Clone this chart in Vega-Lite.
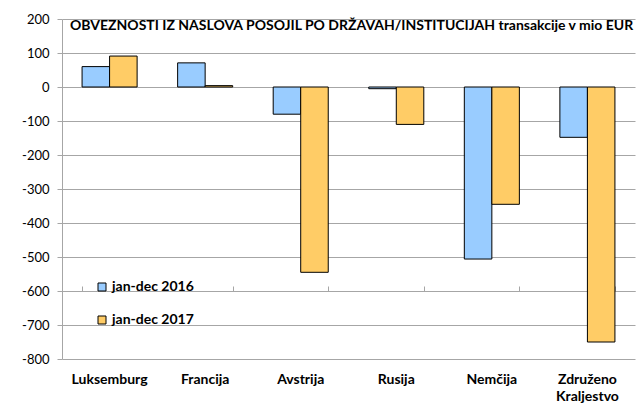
{
  "$schema": "https://vega.github.io/schema/vega-lite/v6.json",
  "width": 573,
  "height": 340,
  "autosize": {"type": "none"},
  "padding": {"left": 62, "top": 19, "right": 4, "bottom": 47},
  "background": "white",
  "title": {
    "text": "OBVEZNOSTI IZ NASLOVA POSOJIL PO DRŽAVAH/INSTITUCIJAH transakcije v mio EUR",
    "anchor": "start",
    "frame": "group",
    "orient": "top",
    "offset": -20,
    "baseline": "top",
    "dx": 8,
    "font": "Lato",
    "fontSize": 14,
    "fontWeight": "bold",
    "color": "black"
  },
  "data": {
    "values": [
      {"country": "Luksemburg", "series": "jan-dec 2016", "value": 60},
      {"country": "Luksemburg", "series": "jan-dec 2017", "value": 91},
      {"country": "Francija", "series": "jan-dec 2016", "value": 71},
      {"country": "Francija", "series": "jan-dec 2017", "value": 4},
      {"country": "Avstrija", "series": "jan-dec 2016", "value": -80},
      {"country": "Avstrija", "series": "jan-dec 2017", "value": -545},
      {"country": "Rusija", "series": "jan-dec 2016", "value": -5},
      {"country": "Rusija", "series": "jan-dec 2017", "value": -110},
      {"country": "Nemčija", "series": "jan-dec 2016", "value": -506},
      {"country": "Nemčija", "series": "jan-dec 2017", "value": -345},
      {"country": "Združeno Kraljestvo", "series": "jan-dec 2016", "value": -148},
      {"country": "Združeno Kraljestvo", "series": "jan-dec 2017", "value": -750}
    ]
  },
  "resolve": {"axis": {"x": "independent"}},
  "layer": [
    {
      "mark": {"type": "bar", "stroke": "black", "strokeWidth": 1},
      "encoding": {
        "x": {
          "field": "country",
          "type": "nominal",
          "sort": null,
          "scale": {"paddingInner": 0.424, "paddingOuter": 0.21},
          "axis": {
            "title": null,
            "domain": false,
            "ticks": false,
            "labelAngle": 0,
            "labelPadding": 13,
            "labelFont": "Lato",
            "labelFontSize": 14,
            "labelFontWeight": "bold",
            "labelColor": "black",
            "labelExpr": "datum.label == 'Združeno Kraljestvo' ? ['Združeno', 'Kraljestvo'] : datum.label",
            "labelLineHeight": 17
          }
        },
        "xOffset": {"field": "series", "sort": null},
        "y": {
          "field": "value",
          "type": "quantitative",
          "scale": {"domain": [-800, 200], "nice": false, "zero": false},
          "axis": {
            "title": null,
            "values": [-800, -700, -600, -500, -400, -300, -200, -100, 0, 100, 200],
            "labelOverlap": false,
            "labelExpr": "(datum.value < 0 ? '-' : '') + abs(datum.value)",
            "grid": true,
            "gridColor": "#A6A6A6",
            "gridWidth": 1,
            "domain": true,
            "domainColor": "#A6A6A6",
            "ticks": true,
            "tickColor": "#A6A6A6",
            "tickSize": 5,
            "labelPadding": 8,
            "labelFont": "Lato",
            "labelFontSize": 13,
            "labelColor": "black"
          }
        },
        "color": {
          "field": "series",
          "type": "nominal",
          "scale": {"domain": ["jan-dec 2016", "jan-dec 2017"], "range": ["#99CCFF", "#FFCC66"]},
          "legend": {
            "title": null,
            "orient": "none",
            "legendX": 33,
            "legendY": 261,
            "symbolType": "square",
            "symbolSize": 64,
            "symbolStrokeColor": "black",
            "symbolStrokeWidth": 1,
            "labelFont": "Lato",
            "labelFontSize": 14,
            "labelFontWeight": "bold",
            "labelColor": "black",
            "labelOffset": 3,
            "rowPadding": 19
          }
        }
      }
    },
    {
      "mark": {"type": "point", "opacity": 0},
      "encoding": {
        "x": {
          "field": "country",
          "type": "nominal",
          "sort": null,
          "axis": {
            "title": null,
            "labels": false,
            "domain": true,
            "domainColor": "#A6A6A6",
            "ticks": true,
            "tickBand": "extent",
            "tickColor": "#A6A6A6",
            "tickSize": 5,
            "offset": -272
          }
        },
        "y": {
          "datum": 0,
          "type": "quantitative",
          "axis": {
            "title": null,
            "values": [-800, -700, -600, -500, -400, -300, -200, -100, 0, 100, 200],
            "labelOverlap": false,
            "labelExpr": "(datum.value < 0 ? '-' : '') + abs(datum.value)",
            "grid": true,
            "gridColor": "#A6A6A6",
            "gridWidth": 1,
            "domain": true,
            "domainColor": "#A6A6A6",
            "ticks": true,
            "tickColor": "#A6A6A6",
            "tickSize": 5,
            "labelPadding": 8,
            "labelFont": "Lato",
            "labelFontSize": 13,
            "labelColor": "black"
          }
        }
      }
    }
  ],
  "config": {
    "view": {"stroke": null}
  }
}
